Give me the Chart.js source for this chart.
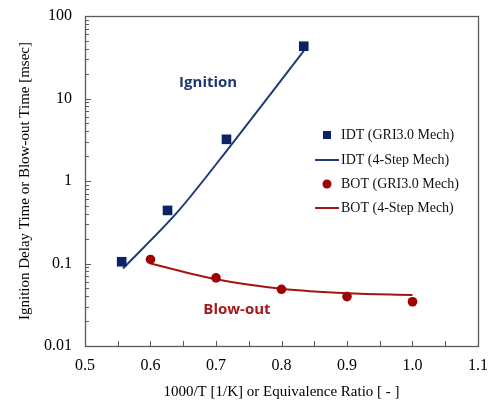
<!DOCTYPE html>
<html>
<head>
<meta charset="utf-8">
<title>Ignition delay and blow-out time</title>
<script src="https://cdn.jsdelivr.net/npm/chart.js@4.4.1/dist/chart.umd.min.js"></script>
<style>
  html, body { margin: 0; padding: 0; background: #fff; }
  canvas { display: block; }
</style>
</head>
<body>
<canvas id="chart" width="496" height="401"></canvas>
<script>
// values
const idtGriX = [0.556, 0.626, 0.716, 0.834];
const idtGriY = [0.105, 0.44, 3.2, 43];
const idtStepX = [0.558, 0.64, 0.721, 0.834];
const idtStepY = [0.087, 0.41, 2.6, 37.7];
const botGriX = [0.6, 0.7, 0.8, 0.9, 1.0];
const botGriY = [0.112, 0.067, 0.0487, 0.0397, 0.0344];
const botStepX = [0.6, 0.7, 0.8, 0.9, 1.0];
const botStepY = [0.1, 0.0645, 0.0495, 0.0436, 0.0416];

const xTicks = [0.5, 0.6, 0.7, 0.8, 0.9, 1.0, 1.1];
const yTicks = [0.01, 0.1, 1, 10, 100];
const seriesNames = ['IDT (GRI3.0 Mech)', 'IDT (4-Step Mech)', 'BOT (GRI3.0 Mech)', 'BOT (4-Step Mech)'];

const NAVY = '#0a2463';
const NAVY_LINE = '#1f3c78';
const RED = '#a00000';
const RED_LINE = '#a31515';
const SERIF = '"Liberation Serif", "Times New Roman", serif';

const toPoints = (xs, ys) => xs.map((x, i) => ({ x: x, y: ys[i] }));

// frame plus inward tick marks, like the original plot
const frameAndTicks = {
    id: 'frameAndTicks',
    afterDatasetsDraw(chart) {
        const { ctx, chartArea: a, scales: { x, y } } = chart;
        ctx.save();
        ctx.strokeStyle = '#5a5a5a';
        ctx.lineWidth = 1;
        ctx.beginPath();
        for (let i = 1; i < 12; i++) {
            const px = Math.round(x.getPixelForValue(0.5 + i * 0.05)) + 0.5;
            ctx.moveTo(px, a.bottom);
            ctx.lineTo(px, a.bottom - 5);
        }
        for (let d = 0; d < yTicks.length - 1; d++) {
            for (let m = 1; m <= 9; m++) {
                const py = Math.round(y.getPixelForValue(yTicks[d] * m)) + 0.5;
                ctx.moveTo(a.left, py);
                ctx.lineTo(a.left + (m === 1 ? 6 : 4), py);
            }
        }
        const top = Math.round(y.getPixelForValue(100)) + 0.5;
        ctx.moveTo(a.left, top);
        ctx.lineTo(a.left + 6, top);
        ctx.stroke();
        ctx.lineWidth = 1.3;
        ctx.strokeRect(Math.round(a.left) + 0.5, Math.round(a.top) + 0.5, Math.round(a.width), Math.round(a.height));
        ctx.restore();
    }
};

// in-plot legend and the two text notes
const notesAndLegend = {
    id: 'notesAndLegend',
    afterDraw(chart) {
        const { ctx, scales: { x, y } } = chart;
        ctx.save();
        ctx.textAlign = 'center';
        ctx.textBaseline = 'middle';
        ctx.font = 'bold 15px "Open Sans", sans-serif';
        ctx.fillStyle = '#1f3a70';
        ctx.fillText('Ignition', x.getPixelForValue(0.688), y.getPixelForValue(15.4));
        ctx.fillStyle = '#a01c1c';
        ctx.fillText('Blow-out', x.getPixelForValue(0.732), y.getPixelForValue(0.0273));

        const lx = 327, rows = [135, 160, 184, 208];
        ctx.fillStyle = NAVY;
        ctx.fillRect(lx - 4, rows[0] - 4, 8, 8);
        ctx.lineWidth = 2;
        ctx.strokeStyle = NAVY_LINE;
        ctx.beginPath(); ctx.moveTo(315, rows[1]); ctx.lineTo(339, rows[1]); ctx.stroke();
        ctx.fillStyle = RED;
        ctx.beginPath(); ctx.arc(lx, rows[2], 4.5, 0, Math.PI * 2); ctx.fill();
        ctx.strokeStyle = RED_LINE;
        ctx.beginPath(); ctx.moveTo(315, rows[3]); ctx.lineTo(339, rows[3]); ctx.stroke();

        ctx.textAlign = 'left';
        ctx.fillStyle = '#111';
        ctx.font = '14px ' + SERIF;
        seriesNames.forEach((name, i) => ctx.fillText(name, 341, rows[i]));
        ctx.restore();
    }
};

new Chart(document.getElementById('chart').getContext('2d'), {
    type: 'scatter',
    data: {
        datasets: [
            {
                label: seriesNames[0],
                data: toPoints(idtGriX, idtGriY),
                pointStyle: 'rect',
                pointRadius: 6.8,
                backgroundColor: NAVY,
                borderColor: NAVY,
                borderWidth: 0
            },
            {
                label: seriesNames[1],
                data: toPoints(idtStepX, idtStepY),
                showLine: true,
                pointRadius: 0,
                borderColor: NAVY_LINE,
                borderWidth: 2,
                tension: 0.3
            },
            {
                label: seriesNames[2],
                data: toPoints(botGriX, botGriY),
                pointStyle: 'circle',
                pointRadius: 4.8,
                backgroundColor: RED,
                borderColor: RED,
                borderWidth: 0
            },
            {
                label: seriesNames[3],
                data: toPoints(botStepX, botStepY),
                showLine: true,
                pointRadius: 0,
                borderColor: RED_LINE,
                borderWidth: 2,
                cubicInterpolationMode: 'monotone'
            }
        ]
    },
    options: {
        responsive: false,
        animation: false,
        layout: { padding: { left: 0, right: 18, top: 16, bottom: 0 } },
        plugins: {
            legend: { display: false },
            tooltip: { enabled: false }
        },
        scales: {
            x: {
                type: 'linear',
                min: 0.5,
                max: 1.1,
                afterBuildTicks: s => { s.ticks = xTicks.map(v => ({ value: v })); },
                afterFit: s => { s.height = 55; s.paddingLeft = 0; s.paddingRight = 0; },
                grid: { display: false, drawTicks: false },
                border: { display: false },
                ticks: {
                    padding: 10,
                    color: '#000',
                    font: { family: SERIF, size: 16 },
                    callback: v => v.toFixed(1)
                },
                title: {
                    display: true,
                    text: '1000/T [1/K] or Equivalence Ratio [ - ]',
                    color: '#000',
                    font: { family: SERIF, size: 15 },
                    padding: { top: 0, bottom: 0 }
                }
            },
            y: {
                type: 'logarithmic',
                min: 0.01,
                max: 100,
                afterBuildTicks: s => { s.ticks = yTicks.map(v => ({ value: v })); },
                afterFit: s => { s.width = 85; s.paddingTop = 0; s.paddingBottom = 0; },
                grid: { display: false, drawTicks: false },
                border: { display: false },
                ticks: {
                    padding: 13,
                    color: '#000',
                    font: { family: SERIF, size: 16 },
                    callback: v => String(v)
                },
                title: {
                    display: true,
                    text: 'Ignition Delay Time or Blow-out Time [msec]',
                    color: '#000',
                    font: { family: SERIF, size: 15 },
                    padding: { top: 16, bottom: 0 }
                }
            }
        }
    },
    plugins: [frameAndTicks, notesAndLegend]
});
</script>
</body>
</html>
